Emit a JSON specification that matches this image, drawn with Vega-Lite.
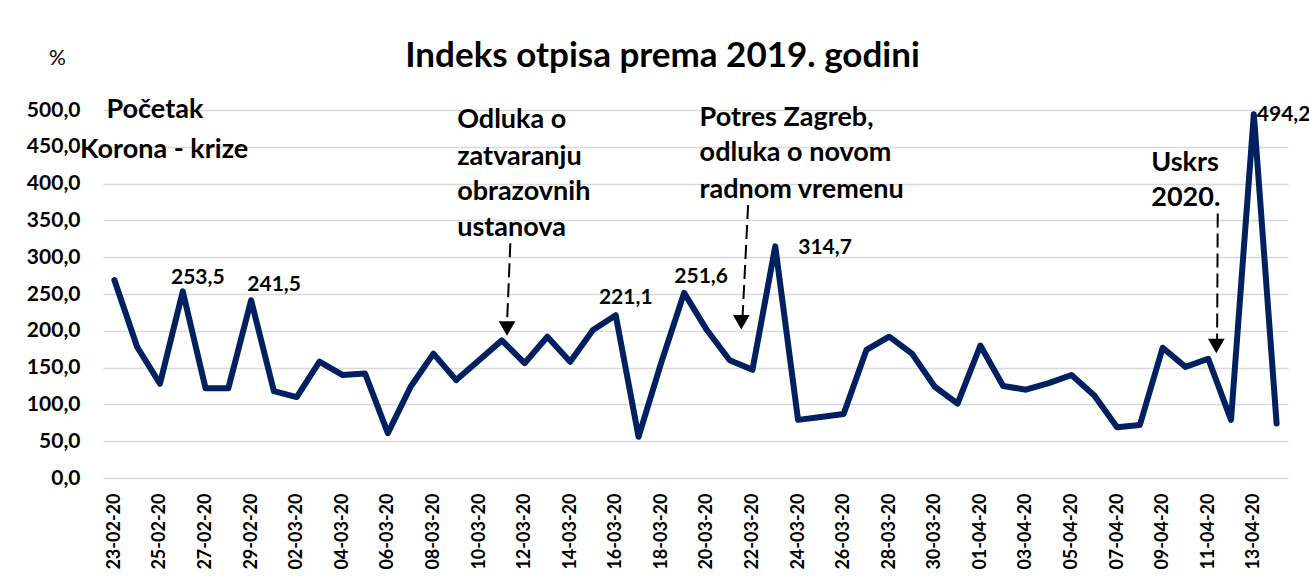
{
  "$schema": "https://vega.github.io/schema/vega-lite/v6.json",
  "autosize": {"type": "none"},
  "padding": {"left": 103, "top": 110, "right": 21, "bottom": 102},
  "width": 1185,
  "height": 368,
  "background": "white",
  "config": {
    "locale": {"number": {"decimal": ",", "thousands": ".", "grouping": [3], "currency": ["", " kn"]}},
    "view": {"stroke": null},
    "font": "Lato"
  },
  "title": {
    "text": "Indeks otpisa prema 2019. godini",
    "font": "Lato",
    "fontSize": 35,
    "fontWeight": "bold",
    "color": "#000000",
    "anchor": "middle",
    "dx": -33,
    "offset": -27
  },
  "datasets": {
    "series": [
      {"date": "2020-02-23", "value": 269},
      {"date": "2020-02-24", "value": 178},
      {"date": "2020-02-25", "value": 128},
      {"date": "2020-02-26", "value": 253.5},
      {"date": "2020-02-27", "value": 122},
      {"date": "2020-02-28", "value": 122},
      {"date": "2020-02-29", "value": 241.5},
      {"date": "2020-03-01", "value": 118},
      {"date": "2020-03-02", "value": 110},
      {"date": "2020-03-03", "value": 158},
      {"date": "2020-03-04", "value": 140},
      {"date": "2020-03-05", "value": 142},
      {"date": "2020-03-06", "value": 61},
      {"date": "2020-03-07", "value": 124},
      {"date": "2020-03-08", "value": 169},
      {"date": "2020-03-09", "value": 133},
      {"date": "2020-03-10", "value": 160},
      {"date": "2020-03-11", "value": 187},
      {"date": "2020-03-12", "value": 156},
      {"date": "2020-03-13", "value": 192},
      {"date": "2020-03-14", "value": 158},
      {"date": "2020-03-15", "value": 201},
      {"date": "2020-03-16", "value": 221.1},
      {"date": "2020-03-17", "value": 56},
      {"date": "2020-03-18", "value": 157},
      {"date": "2020-03-19", "value": 251.6},
      {"date": "2020-03-20", "value": 201},
      {"date": "2020-03-21", "value": 160},
      {"date": "2020-03-22", "value": 147},
      {"date": "2020-03-23", "value": 314.7},
      {"date": "2020-03-24", "value": 79},
      {"date": "2020-03-25", "value": 83},
      {"date": "2020-03-26", "value": 87},
      {"date": "2020-03-27", "value": 174},
      {"date": "2020-03-28", "value": 192},
      {"date": "2020-03-29", "value": 169},
      {"date": "2020-03-30", "value": 124},
      {"date": "2020-03-31", "value": 101},
      {"date": "2020-04-01", "value": 180},
      {"date": "2020-04-02", "value": 125},
      {"date": "2020-04-03", "value": 120},
      {"date": "2020-04-04", "value": 129},
      {"date": "2020-04-05", "value": 140},
      {"date": "2020-04-06", "value": 112},
      {"date": "2020-04-07", "value": 69},
      {"date": "2020-04-08", "value": 72},
      {"date": "2020-04-09", "value": 177},
      {"date": "2020-04-10", "value": 151},
      {"date": "2020-04-11", "value": 162},
      {"date": "2020-04-12", "value": 79},
      {"date": "2020-04-13", "value": 494.2},
      {"date": "2020-04-14", "value": 74}
    ],
    "notesCenter": [
      {"date": "2020-02-24T18:40Z", "value": 500, "text": "Početak"},
      {"date": "2020-02-25T04:20Z", "value": 445.6, "text": "Korona - krize"}
    ],
    "notesLeft": [
      {"date": "2020-03-09T01:00Z", "value": 486.4, "text": "Odluka o"},
      {"date": "2020-03-09T01:00Z", "value": 436.5, "text": "zatvaranju"},
      {"date": "2020-03-09T01:00Z", "value": 388.9, "text": "obrazovnih"},
      {"date": "2020-03-09T01:00Z", "value": 339.1, "text": "ustanova"},
      {"date": "2020-03-19T16:20Z", "value": 488.7, "text": "Potres Zagreb,"},
      {"date": "2020-03-19T16:20Z", "value": 441.1, "text": "odluka o novom"},
      {"date": "2020-03-19T16:20Z", "value": 391.2, "text": "radnom vremenu"},
      {"date": "2020-04-08T12:00Z", "value": 427.5, "text": "Uskrs"},
      {"date": "2020-04-08T12:00Z", "value": 379.9, "text": "2020."}
    ],
    "arrows": [
      {"date": "2020-03-11T09:00Z", "date2": "2020-03-11T05:30Z", "value": 319, "value2": 210},
      {"date": "2020-03-21T19:25Z", "date2": "2020-03-21T13:25Z", "value": 370.8, "value2": 215},
      {"date": "2020-04-11T10:00Z", "date2": "2020-04-11T09:20Z", "value": 359.5, "value2": 186}
    ],
    "heads": [
      {"date": "2020-03-11T05:30Z", "value": 203.2},
      {"date": "2020-03-21T12:15Z", "value": 211.7},
      {"date": "2020-04-11T08:30Z", "value": 179.4}
    ]
  },
  "encoding": {
    "x": {
      "field": "date", "type": "temporal",
      "scale": {"type": "utc", "domain": [{"year": 2020, "month": 2, "date": 22, "hours": 12, "utc": true}, {"year": 2020, "month": 4, "date": 14, "hours": 12, "utc": true}]},
      "axis": {
        "title": null,
        "format": "%d-%m-%y",
        "labelAngle": -90,
        "labelAlign": "right",
        "labelBaseline": "middle",
        "labelFont": "Lato",
        "labelFontSize": 18,
        "labelFontWeight": "bold",
        "labelColor": "#000000",
        "labelPadding": 15,
        "labelOverlap": false,
        "labelFlush": false,
        "tickCount": 60,
        "ticks": false,
        "domain": false,
        "grid": false,
        "values": [
          {"year": 2020, "month": 2, "date": 23, "utc": true},
          {"year": 2020, "month": 2, "date": 25, "utc": true},
          {"year": 2020, "month": 2, "date": 27, "utc": true},
          {"year": 2020, "month": 2, "date": 29, "utc": true},
          {"year": 2020, "month": 3, "date": 2, "utc": true},
          {"year": 2020, "month": 3, "date": 4, "utc": true},
          {"year": 2020, "month": 3, "date": 6, "utc": true},
          {"year": 2020, "month": 3, "date": 8, "utc": true},
          {"year": 2020, "month": 3, "date": 10, "utc": true},
          {"year": 2020, "month": 3, "date": 12, "utc": true},
          {"year": 2020, "month": 3, "date": 14, "utc": true},
          {"year": 2020, "month": 3, "date": 16, "utc": true},
          {"year": 2020, "month": 3, "date": 18, "utc": true},
          {"year": 2020, "month": 3, "date": 20, "utc": true},
          {"year": 2020, "month": 3, "date": 22, "utc": true},
          {"year": 2020, "month": 3, "date": 24, "utc": true},
          {"year": 2020, "month": 3, "date": 26, "utc": true},
          {"year": 2020, "month": 3, "date": 28, "utc": true},
          {"year": 2020, "month": 3, "date": 30, "utc": true},
          {"year": 2020, "month": 4, "date": 1, "utc": true},
          {"year": 2020, "month": 4, "date": 3, "utc": true},
          {"year": 2020, "month": 4, "date": 5, "utc": true},
          {"year": 2020, "month": 4, "date": 7, "utc": true},
          {"year": 2020, "month": 4, "date": 9, "utc": true},
          {"year": 2020, "month": 4, "date": 11, "utc": true},
          {"year": 2020, "month": 4, "date": 13, "utc": true}
        ]
      }
    },
    "y": {
      "field": "value", "type": "quantitative",
      "scale": {"domain": [0, 500], "nice": false, "zero": true},
      "axis": {
        "title": "%",
        "titleAngle": 0,
        "titleX": -46,
        "titleY": -52,
        "titleAlign": "center",
        "titleBaseline": "middle",
        "titleFont": "Lato",
        "titleFontSize": 21,
        "titleFontWeight": "normal",
        "titleColor": "#000000",
        "values": [0, 50, 100, 150, 200, 250, 300, 350, 400, 450, 500],
        "tickCount": 20,
        "format": ".1f",
        "labelFont": "Lato",
        "labelFontSize": 21,
        "labelFontWeight": "bold",
        "labelColor": "#000000",
        "labelPadding": 23,
        "labelOverlap": false,
        "labelFlush": false,
        "ticks": false,
        "domain": false,
        "grid": true,
        "gridColor": "#D9D9D9",
        "gridWidth": 1.5
      }
    }
  },
  "layer": [
    {
      "data": {"name": "series"},
      "mark": {"type": "line", "color": "#002060", "strokeWidth": 6, "strokeCap": "round", "strokeJoin": "round"}
    },
    {
      "data": {"name": "series"},
      "transform": [{"filter": {"field": "date", "equal": {"year": 2020, "month": 2, "date": 26, "utc": true}}}],
      "mark": {"type": "text", "font": "Lato", "fontSize": 21, "fontWeight": "bold", "color": "#000000", "align": "center", "baseline": "middle", "dx": 15, "dy": -13},
      "encoding": {"text": {"field": "value", "type": "quantitative", "format": ".1f"}}
    },
    {
      "data": {"name": "series"},
      "transform": [{"filter": {"field": "date", "equal": {"year": 2020, "month": 2, "date": 29, "utc": true}}}],
      "mark": {"type": "text", "font": "Lato", "fontSize": 21, "fontWeight": "bold", "color": "#000000", "align": "center", "baseline": "middle", "dx": 23, "dy": -15},
      "encoding": {"text": {"field": "value", "type": "quantitative", "format": ".1f"}}
    },
    {
      "data": {"name": "series"},
      "transform": [{"filter": {"field": "date", "equal": {"year": 2020, "month": 3, "date": 16, "utc": true}}}],
      "mark": {"type": "text", "font": "Lato", "fontSize": 21, "fontWeight": "bold", "color": "#000000", "align": "center", "baseline": "middle", "dx": 10, "dy": -17},
      "encoding": {"text": {"field": "value", "type": "quantitative", "format": ".1f"}}
    },
    {
      "data": {"name": "series"},
      "transform": [{"filter": {"field": "date", "equal": {"year": 2020, "month": 3, "date": 19, "utc": true}}}],
      "mark": {"type": "text", "font": "Lato", "fontSize": 21, "fontWeight": "bold", "color": "#000000", "align": "center", "baseline": "middle", "dx": 17, "dy": -16},
      "encoding": {"text": {"field": "value", "type": "quantitative", "format": ".1f"}}
    },
    {
      "data": {"name": "series"},
      "transform": [{"filter": {"field": "date", "equal": {"year": 2020, "month": 3, "date": 23, "utc": true}}}],
      "mark": {"type": "text", "font": "Lato", "fontSize": 21, "fontWeight": "bold", "color": "#000000", "align": "left", "baseline": "middle", "dx": 23, "dy": 2},
      "encoding": {"text": {"field": "value", "type": "quantitative", "format": ".1f"}}
    },
    {
      "data": {"name": "series"},
      "transform": [{"filter": {"field": "date", "equal": {"year": 2020, "month": 4, "date": 13, "utc": true}}}],
      "mark": {"type": "text", "font": "Lato", "fontSize": 21, "fontWeight": "bold", "color": "#000000", "align": "left", "baseline": "middle", "dx": 3, "dy": 1},
      "encoding": {"text": {"field": "value", "type": "quantitative", "format": ".1f"}}
    },
    {
      "data": {"name": "notesCenter"},
      "mark": {"type": "text", "font": "Lato", "fontSize": 27, "fontWeight": "bold", "color": "#000000", "align": "center", "baseline": "middle"},
      "encoding": {"text": {"field": "text", "type": "nominal"}}
    },
    {
      "data": {"name": "notesLeft"},
      "mark": {"type": "text", "font": "Lato", "fontSize": 27, "fontWeight": "bold", "color": "#000000", "align": "left", "baseline": "middle"},
      "encoding": {"text": {"field": "text", "type": "nominal"}}
    },
    {
      "data": {"name": "arrows"},
      "mark": {"type": "rule", "color": "#000000", "strokeWidth": 2, "strokeDash": [14, 6]},
      "encoding": {
        "x2": {"field": "date2"},
        "y2": {"field": "value2"}
      }
    },
    {
      "data": {"name": "heads"},
      "mark": {"type": "point", "shape": "triangle-down", "filled": true, "color": "#000000", "size": 280, "opacity": 1}
    }
  ]
}
